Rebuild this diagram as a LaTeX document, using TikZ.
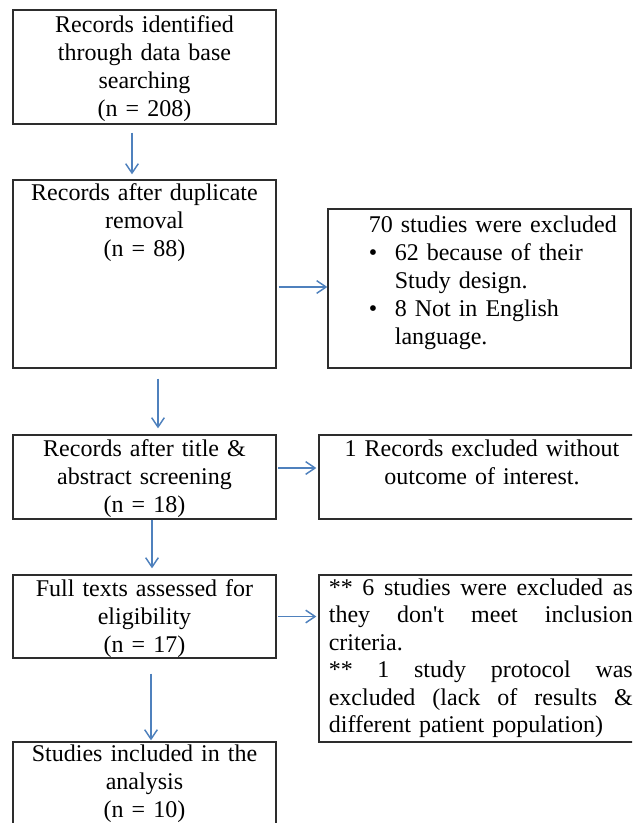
\documentclass[tikz,border=0pt]{standalone}
\usepackage{fontspec}
\newfontfamily\flowfont{Liberation Serif}
\usetikzlibrary{arrows.meta,calc}

\tikzset{every picture/.style={line width=0.75pt}}
\tikzset{
  recbox/.style={draw={rgb, 255:red, 45; green, 45; blue, 45 }, line width=1pt, inner sep=0pt, rectangle},
  rectext/.style={font=\flowfont\fontsize{18}{21}\selectfont, inner sep=0pt, anchor=base, align=center},
  flowarrow/.style={draw={rgb, 255:red, 79; green, 129; blue, 189 }, line width=1.1pt, -{Straight Barb[length=7pt,width=9.5pt]}}
}
% one stretched line of the justified text
\newcommand{\jline}[1]{\leavevmode\hbox to 228pt{#1}}

\begin{document}
\begin{tikzpicture}[x=0.75pt,y=0.75pt,yscale=-1,xscale=1]
\useasboundingbox (0,0) rectangle (632,823);
\clip (0,0) rectangle (632,823);

%Shape: Rectangle
\node[recbox, minimum width=197.25pt, minimum height=85.5pt] (ident) at (144.5,67) {};
\node[rectext, text width=190pt] (identtxt) at ($(ident.north)+(0,23)$) {Records identified\\through data base\\searching\\(n = 208)};
%Shape: Rectangle
\node[recbox, minimum width=197.25pt, minimum height=141pt] (dup) at (144.5,274) {};
\node[rectext, text width=190pt] (duptxt) at ($(dup.north)+(0,21)$) {Records after duplicate\\removal\\(n = 88)};
%Shape: Rectangle
\node[recbox, minimum width=197.25pt, minimum height=63pt] (scr) at (144.5,477) {};
\node[rectext, text width=190pt] (scrtxt) at ($(scr.north)+(0,22)$) {Records after title \&\\abstract screening\\(n = 18)};
%Shape: Rectangle
\node[recbox, minimum width=197.25pt, minimum height=62.25pt] (full) at (144.5,616.5) {};
\node[rectext, text width=190pt] (fulltxt) at ($(full.north)+(0,22)$) {Full texts assessed for\\eligibility\\(n = 17)};
%Shape: Rectangle
\node[recbox, minimum width=197.25pt, minimum height=73.5pt] (incl) at (144.5,791) {};
\node[rectext, text width=190pt] (incltxt) at ($(incl.north)+(0,20)$) {Studies included in the\\analysis\\(n = 10)};

%Shape: Rectangle
\node[recbox, minimum width=227.25pt, minimum height=119.25pt] (exc1) at (479.5,288.5) {};
\node[rectext, anchor=base west, align=left, text width=220pt] (exc1txt) at ($(exc1.north west)+(41,24)$) {70 studies were excluded\\
\makebox[19.5pt][l]{\textbullet}62 because of their\\
\hspace*{19.5pt}Study design.\\
\makebox[19.5pt][l]{\textbullet}8 Not in English\\
\hspace*{19.5pt}language.};
%Shape: Rectangle
\node[recbox, minimum width=248.25pt, minimum height=63pt] (oce) at (484.5,477) {};
\node[rectext, text width=230pt] (ocetxt) at ($(oce.north)+(-2.5,22)$) {1 Records excluded without\\outcome of interest.};
%Shape: Rectangle
\node[recbox, minimum width=248.25pt, minimum height=125.25pt] (exc3) at (484.5,658.5) {};
\node[rectext, anchor=base west, align=left, text width=240pt, font=\flowfont\fontsize{18}{20.6}\selectfont] (exc3txt) at ($(exc3.north west)+(10,21)$) {\jline{** \hfill 6 \hfill studies \hfill were \hfill excluded \hfill as}\\
\jline{they \hfill don't \hfill meet \hfill inclusion}\\
criteria.\\
\jline{** \hfill 1 \hfill study \hfill protocol \hfill was}\\
\jline{excluded \hfill (lack \hfill of \hfill results \hfill \&}\\
different patient population)};

%Straight Lines
\draw[flowarrow, shorten <=6pt, shorten >=3.75pt] ($(ident.south)+(-12.5,0)$) -- ($(dup.north)+(-12.5,0)$);
\draw[flowarrow, shorten <=7.5pt, shorten >=4.5pt] ($(dup.south)+(13.5,0)$) -- ($(scr.north)+(13.5,0)$);
\draw[flowarrow, shorten >=4.5pt] ($(scr.south)+(7.5,0)$) -- ($(full.north)+(7.5,0)$);
\draw[flowarrow, shorten <=11.25pt, shorten >=0.75pt] ($(full.south)+(6.5,0)$) -- ($(incl.north)+(6.5,0)$);

%Straight Lines
\coordinate (dupout) at ($(dup.east)+(0,13)$);
\coordinate (scrout) at ($(scr.east)+(0,-9)$);
\draw[flowarrow, shorten <=1.5pt] (dupout) -- (dupout -| exc1.west);
\draw[flowarrow, shorten <=1pt, shorten >=1.5pt] (scrout) -- (scrout -| oce.west);
\draw[flowarrow, shorten <=1pt, shorten >=1.5pt] (full.east) -- (full.east -| exc3.west);

\end{tikzpicture}
\end{document}
